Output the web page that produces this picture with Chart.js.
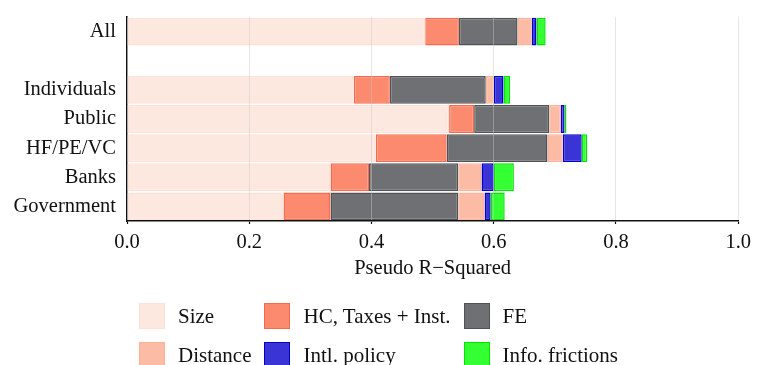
<!DOCTYPE html>
<html>
<head>
<meta charset="utf-8">
<script src="https://cdn.jsdelivr.net/npm/chart.js@4/dist/chart.umd.min.js"></script>
<style>
  html, body { margin: 0; padding: 0; background: #fff; }
  #wrap { position: relative; width: 757px; height: 365px; overflow: hidden; }
  #legend {
    position: absolute; left: 139px; top: 303px;
    display: grid; grid-template-columns: auto auto auto;
    column-gap: 13px; row-gap: 13px;
    font-family: 'Liberation Serif', 'Times New Roman', serif; font-size: 21px; color: #111;
  }
  .lg-item { display: flex; align-items: center; height: 26px; }
  .lg-box { width: 26px; height: 26px; box-sizing: border-box; border: 1.5px solid; margin-right: 13px; }
</style>
</head>
<body>
<div id="wrap">
  <canvas id="chart"></canvas>
  <div id="legend"></div>
</div>
<script>
'use strict';

/* ── データ ─────────────────────────── */
const CATEGORIES = ['All', '', 'Individuals', 'Public', 'HF/PE/VC', 'Banks', 'Government'];

// 各成分の増分 (Pseudo R²)
const SIZE     = [0.488, null, 0.371, 0.527, 0.407, 0.333, 0.256];
const HC       = [0.055, null, 0.059, 0.041, 0.116, 0.063, 0.077];
const FE       = [0.096, null, 0.157, 0.123, 0.165, 0.146, 0.209];
const DISTANCE = [0.023, null, 0.013, 0.019, 0.025, 0.038, 0.043];
const INTL     = [0.008, null, 0.016, 0.006, 0.031, 0.020, 0.010];
const INFO     = [0.015, null, 0.011, 0.003, 0.009, 0.033, 0.023];

const X_TICK_VALUES = [0, 0.2, 0.4, 0.6, 0.8, 1.0];
const X_TICK_LABELS = ['0.0', '0.2', '0.4', '0.6', '0.8', '1.0'];

const SERIES = [
  { label: 'Size',              data: SIZE,     fill: '#fde8df', border: '#fce1d6' },
  { label: 'HC, Taxes + Inst.', data: HC,       fill: '#fc8a6f', border: '#f86a4c' },
  { label: 'FE',                data: FE,       fill: '#6e7073', border: '#505355' },
  { label: 'Distance',          data: DISTANCE, fill: '#fcbba4', border: '#fcb39a' },
  { label: 'Intl. policy',      data: INTL,     fill: '#3a33d6', border: '#0000c8' },
  { label: 'Info. frictions',   data: INFO,     fill: '#33ff33', border: '#00e600' },
];

const FONT = { family: "'Liberation Serif', 'Times New Roman', serif", size: 20.5 };

/* ── チャート ───────────────────────── */
const ctx = document.getElementById('chart');
new Chart(ctx, {
  type: 'bar',
  data: {
    labels: CATEGORIES,
    datasets: SERIES.map(s => ({
      label: s.label,
      data: s.data,
      backgroundColor: s.fill,
      borderColor: s.border,
      borderWidth: 1.5,
      borderSkipped: false,
      categoryPercentage: 1,
      barPercentage: 0.955,
    })),
  },
  options: {
    indexAxis: 'y',
    responsive: true,
    maintainAspectRatio: false,
    animation: false,
    layout: { padding: { top: 17, right: 14, bottom: 84, left: 0 } },
    plugins: { legend: { display: false }, tooltip: { enabled: false } },
    scales: {
      x: {
        stacked: true,
        min: 0, max: 1,
        afterBuildTicks: axis => { axis.ticks = X_TICK_VALUES.map(v => ({ value: v })); },
        afterFit: axis => { axis.height = 60; },
        ticks: {
          color: '#111', font: FONT, padding: 6, maxRotation: 0,
          callback: (v, i) => X_TICK_LABELS[i],
        },
        grid: {
          z: 1,
          color: 'rgba(200,200,200,0.45)',
          lineWidth: 1,
          tickColor: '#111',
          tickLength: 3,
          tickWidth: 1.2,
        },
        border: { display: true, color: '#111', width: 1.6, z: 1 },
        title: {
          display: true, text: 'Pseudo R\u2212Squared', color: '#111', font: FONT,
          padding: { top: 2, bottom: 0 },
        },
      },
      y: {
        stacked: true,
        afterFit: axis => { axis.width = 127; axis.paddingTop = 0; axis.paddingBottom = 0; },
        ticks: { color: '#111', font: FONT, padding: 11, autoSkip: false },
        grid: { display: false, drawTicks: false },
        border: { display: true, color: '#111', width: 1.6 },
      },
    },
  },
});

/* ── 凡例 ───────────────────────────── */
document.getElementById('legend').innerHTML = SERIES.map(s =>
  `<div class="lg-item"><span class="lg-box" style="background:${s.fill};border-color:${s.border};"></span>${s.label}</div>`
).join('');
</script>
</body>
</html>
